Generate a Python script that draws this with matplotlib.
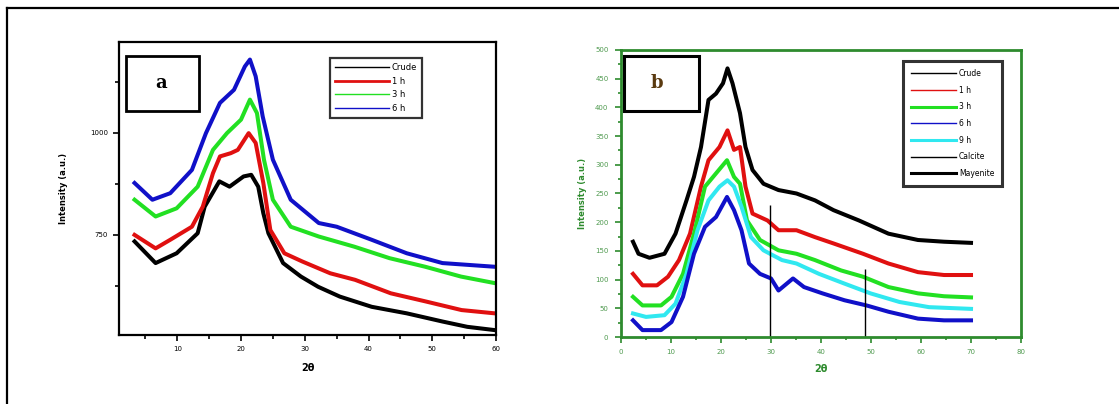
import matplotlib
matplotlib.use("Agg")
import matplotlib.pyplot as plt
from matplotlib.patches import Rectangle
from matplotlib.lines import Line2D
from matplotlib.ticker import MultipleLocator

# ---------------- Panel a data ----------------
a_black_x = [3.3, 6.6, 9.9, 13.2, 14.3, 16.6, 18.2, 20.4, 21.6, 22.7, 23.5, 24.3, 26.6, 29.4, 32.1, 35.5, 40.5, 46.0, 51.6, 55.5, 59.8]
a_black_y = [734, 681, 705, 754, 819, 881, 868, 893, 897, 868, 803, 754, 681, 648, 623, 599, 574, 558, 538, 525, 517]
a_red_x = [3.3, 6.6, 8.9, 12.3, 14.0, 15.6, 16.7, 18.4, 19.5, 21.2, 22.3, 23.5, 24.6, 26.8, 29.6, 34.0, 37.9, 43.5, 49.0, 54.6, 59.8]
a_red_y = [750, 717, 738, 770, 819, 901, 942, 950, 958, 999, 975, 877, 762, 705, 685, 656, 640, 607, 587, 566, 558]
a_green_x = [3.3, 6.6, 9.9, 13.2, 15.6, 17.8, 20.0, 21.4, 22.5, 23.6, 25.0, 27.8, 32.2, 37.8, 43.3, 48.9, 54.5, 59.8]
a_green_y = [836, 795, 815, 868, 958, 999, 1032, 1081, 1048, 934, 836, 770, 746, 721, 693, 672, 648, 632]
a_blue_x = [3.3, 6.1, 8.9, 12.3, 14.5, 16.7, 18.9, 20.6, 21.4, 22.3, 23.4, 25.0, 27.8, 32.2, 35.0, 40.5, 46.0, 51.6, 59.8]
a_blue_y = [877, 836, 852, 909, 999, 1073, 1105, 1162, 1179, 1138, 1040, 934, 836, 779, 770, 738, 705, 681, 672]
a_labels = ["Crude", "1 h", "3 h", "6 h"]
a_xticks = [10, 20, 30, 40, 50, 60]
a_yticks = [750, 1000]

# ---------------- Panel b data ----------------
b_crude_x = [2.4, 3.5, 5.7, 8.7, 10.9, 13.1, 14.6, 16.0, 17.5, 19.0, 20.4, 21.3, 22.3, 23.8, 24.9, 26.3, 28.5, 31.5, 35.1, 38.8, 42.5, 47.6, 53.5, 59.4, 64.6, 70.0]
b_crude_y = [166, 145, 138, 145, 180, 238, 279, 331, 413, 424, 442, 468, 442, 390, 331, 291, 267, 256, 250, 238, 221, 203, 180, 169, 166, 164]
b_1h_x = [2.4, 4.3, 7.2, 9.4, 11.6, 13.8, 16.0, 17.5, 19.7, 21.3, 22.6, 23.8, 24.9, 26.3, 29.3, 31.5, 35.1, 38.8, 42.5, 48.4, 53.5, 59.4, 64.6, 70.0]
b_1h_y = [110, 90, 90, 105, 134, 180, 262, 308, 331, 360, 326, 331, 262, 215, 203, 186, 186, 174, 163, 145, 128, 113, 108, 108]
b_3h_x = [2.4, 4.3, 8.0, 10.1, 12.4, 14.6, 16.8, 19.0, 21.2, 22.6, 23.8, 25.2, 27.8, 31.5, 35.1, 38.8, 44.0, 48.4, 53.5, 59.4, 64.6, 70.0]
b_3h_y = [70, 55, 55, 70, 110, 180, 262, 285, 308, 279, 267, 203, 169, 151, 145, 134, 116, 105, 87, 76, 71, 69]
b_6h_x = [2.4, 4.3, 8.0, 10.1, 12.4, 14.6, 16.8, 19.0, 21.2, 22.6, 24.1, 25.6, 27.8, 30.0, 31.5, 34.4, 36.6, 40.3, 44.7, 49.1, 53.5, 59.4, 64.6, 70.0]
b_6h_y = [29, 12, 12, 26, 70, 145, 192, 209, 244, 221, 186, 128, 110, 102, 81, 102, 87, 76, 64, 55, 44, 32, 29, 29]
b_9h_x = [2.4, 5.0, 8.7, 10.9, 13.1, 15.3, 17.5, 19.7, 21.3, 22.6, 24.1, 26.0, 28.5, 32.2, 35.1, 39.6, 44.7, 49.9, 55.7, 61.6, 70.0]
b_9h_y = [41, 35, 38, 58, 110, 186, 238, 262, 273, 262, 227, 174, 151, 134, 128, 110, 93, 76, 61, 52, 49]
calcite_x = [29.7, 48.75]
calcite_top = [230, 119]
b_labels = ["Crude", "1 h", "3 h", "6 h", "9 h", "Calcite", "Mayenite"]

W, H = 1119, 404
fig = plt.figure(figsize=(W / 100, H / 100), dpi=100)
plt.rcParams['font.family'] = ['DejaVu Sans']

# outer frame (top and left edges)
fig.add_artist(Line2D([7 / W, 1.0], [1 - 8 / H, 1 - 8 / H], color='black', lw=1.6, transform=fig.transFigure))
fig.add_artist(Line2D([7 / W, 7 / W], [0.0, 1 - 8 / H], color='black', lw=1.6, transform=fig.transFigure))

# ================= Panel a =================
axa = fig.add_axes([119 / W, (H - 335) / H, 377 / W, 293 / H])
lw = 2.9
axa.plot(a_black_x, a_black_y, color='black', lw=lw)
axa.plot(a_red_x, a_red_y, color='#e01010', lw=lw)
axa.plot(a_green_x, a_green_y, color='#22e022', lw=lw)
axa.plot(a_blue_x, a_blue_y, color='#1010c8', lw=lw)
axa.set_xlim(0.86, 60)
axa.set_ylim(505, 1222)
axa.set_xticks(a_xticks)
axa.set_xticklabels([str(v) for v in a_xticks])
axa.xaxis.set_minor_locator(MultipleLocator(5))
axa.set_yticks(a_yticks)
axa.set_yticklabels([str(v) for v in a_yticks])
axa.yaxis.set_minor_locator(MultipleLocator(125))
axa.tick_params(which='both', direction='out', top=False, right=False, labelsize=5, pad=4, width=1.2)
axa.tick_params(which='major', length=4)
axa.tick_params(which='minor', length=3)
for s in axa.spines.values():
    s.set_linewidth(1.6)
axa.set_ylabel("Intensity (a.u.)", fontsize=6, fontweight='bold', labelpad=16)
axa.set_xlabel("2θ", fontsize=7, fontweight='bold', labelpad=8)
axa.add_patch(Rectangle((0.019, 0.765), 0.193, 0.187, transform=axa.transAxes, fill=False, lw=2.0, ec='black'))
axa.text(0.112, 0.86, "a", transform=axa.transAxes, ha='center', va='center', fontsize=13, fontweight='bold', family='DejaVu Serif')
handles_a = [Line2D([], [], color='black', lw=1.0), Line2D([], [], color='#e01010', lw=2.0),
             Line2D([], [], color='#22e022', lw=1.0), Line2D([], [], color='#1010c8', lw=1.0)]
lega = axa.legend(handles_a, a_labels, loc='upper left', bbox_to_anchor=(0.56, 0.945), fontsize=6,
                  frameon=True, fancybox=False, handlelength=6.5, borderpad=0.6, labelspacing=0.55,
                  handletextpad=0.3, borderaxespad=0.0)
lega.get_frame().set_edgecolor('black')
lega.get_frame().set_linewidth(1.6)

# ================= Panel b =================
green = '#2e8b2e'
tgreen = '#4f9a4f'
axb = fig.add_axes([621 / W, (H - 337) / H, 400 / W, 287 / H])
axb.plot(b_crude_x, b_crude_y, color='black', lw=lw)
axb.plot(b_1h_x, b_1h_y, color='#e01010', lw=lw)
axb.plot(b_3h_x, b_3h_y, color='#22e022', lw=lw)
axb.plot(b_9h_x, b_9h_y, color='#30e8f0', lw=lw)
axb.plot(b_6h_x, b_6h_y, color='#1010c8', lw=lw)
axb.vlines(calcite_x, 0, calcite_top, color='black', lw=1.0)
axb.set_xlim(0, 80)
axb.set_ylim(0, 500)
axb.xaxis.set_major_locator(MultipleLocator(10))
axb.xaxis.set_minor_locator(MultipleLocator(5))
axb.yaxis.set_major_locator(MultipleLocator(50))
axb.yaxis.set_minor_locator(MultipleLocator(25))
axb.tick_params(which='both', direction='out', top=False, right=False, labelsize=5, pad=5,
                colors=green, labelcolor=tgreen, width=1.2)
axb.tick_params(which='major', length=4)
axb.tick_params(which='minor', length=2.5)
for s in axb.spines.values():
    s.set_linewidth(2.0)
    s.set_color(green)
axb.set_ylabel("Intensity (a.u.)", fontsize=6, fontweight='bold', color=green, labelpad=6)
axb.set_xlabel("2θ", fontsize=7, fontweight='bold', color=green, labelpad=6)
axb.add_patch(Rectangle((0.008, 0.787), 0.187, 0.192, transform=axb.transAxes, fill=False, lw=2.2, ec='black'))
axb.text(0.09, 0.885, "b", transform=axb.transAxes, ha='center', va='center', fontsize=13, fontweight='bold', family='DejaVu Serif', color='#5a3a10')
handles_b = [Line2D([], [], color='black', lw=1.0), Line2D([], [], color='#e01010', lw=1.0),
             Line2D([], [], color='#22e022', lw=2.2), Line2D([], [], color='#1010c8', lw=1.0),
             Line2D([], [], color='#30e8f0', lw=2.2), Line2D([], [], color='black', lw=1.0),
             Line2D([], [], color='black', lw=2.2)]
legb = axb.legend(handles_b, b_labels, loc='upper left', bbox_to_anchor=(0.705, 0.96), fontsize=5.5,
                  frameon=True, fancybox=False, handlelength=6.0, borderpad=1.0, labelspacing=1.0,
                  handletextpad=0.3, borderaxespad=0.0)
legb.get_frame().set_edgecolor('black')
legb.get_frame().set_linewidth(2.2)

fig.savefig("out.png", dpi=100)
